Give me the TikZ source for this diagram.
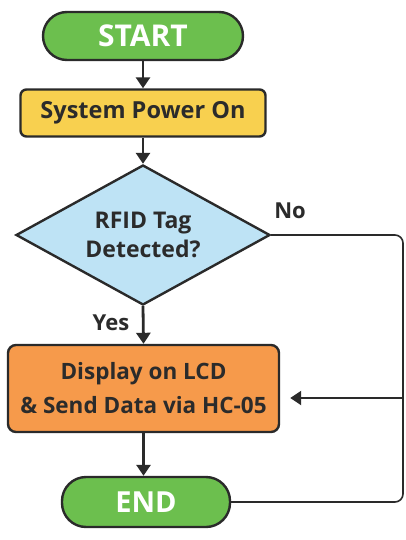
\documentclass[tikz,border=0pt]{standalone}
\usepackage{fontspec}
\setmainfont{Open Sans}
\usetikzlibrary{shapes.geometric,arrows.meta}
\definecolor{gfill}{HTML}{6CBF4E}
\definecolor{yfill}{HTML}{F8D04F}
\definecolor{bfill}{HTML}{BEE3F5}
\definecolor{ofill}{HTML}{F69A4B}
\definecolor{edgec}{HTML}{2A2A2A}
\definecolor{txt}{HTML}{2B2B2B}
\tikzset{
  basebox/.style={draw=edgec, line width=2.4pt, align=center, font=\bfseries, text=txt, inner sep=0pt},
  termbox/.style={basebox, fill=gfill, rounded corners=24pt, text=white},
  procbox/.style={basebox, fill=yfill, rounded corners=6pt},
  decbox/.style={basebox, fill=bfill, diamond, aspect=1.81, minimum width=254pt, minimum height=140pt},
  outbox/.style={basebox, fill=ofill, rounded corners=8pt},
  arrline/.style={draw=edgec, line width=2.8pt, -{Triangle[length=11pt,width=14pt]}},
  flowline/.style={draw=edgec, line width=1.6pt, rounded corners=8pt},
  labtext/.style={font=\bfseries\fontsize{22}{24}\selectfont, text=txt}
}
\begin{document}
\begin{tikzpicture}[x=1pt,y=-1pt]
\useasboundingbox[fill=white] (0,0) rectangle (406,540);
\node[termbox, minimum width=200pt, minimum height=48pt, font=\bfseries\fontsize{30}{32}\selectfont] (start) at (143,36) {START};
\node[procbox, minimum width=245pt, minimum height=47pt, font=\bfseries\fontsize{23.5}{26}\selectfont] (power) at (143,113) {System Power On};
\node[decbox, font=\bfseries\fontsize{23}{29}\selectfont] (rfid) at (143,235) {RFID Tag\\Detected?};
\node[outbox, minimum width=271pt, minimum height=87pt, font=\bfseries\fontsize{22.5}{34}\selectfont] (disp) at (143.5,388.5) {Display on LCD\\\& Send Data via HC-05};
\node[termbox, minimum width=168pt, minimum height=50pt, font=\bfseries\fontsize{29}{32}\selectfont] (end) at (146,502) {END};
\coordinate (jn) at (403,398);
\draw[arrline] (start.south) -- (power.north);
\draw[arrline] (power.south) -- (rfid.north);
\draw[arrline] (rfid.south) -- (disp.north);
\draw[arrline] (disp.south) -- (end.north -| disp.south);
\draw[flowline] (rfid.east) -- (403,235) -- (403,502) -- (end.east);
\draw[arrline, line width=2.2pt, shorten >=10pt] (jn) -- (disp.east |- jn);
\node[labtext] (no) at (290,211) {No};
\node[labtext] (yes) at (111,323) {Yes};
\end{tikzpicture}
\end{document}
